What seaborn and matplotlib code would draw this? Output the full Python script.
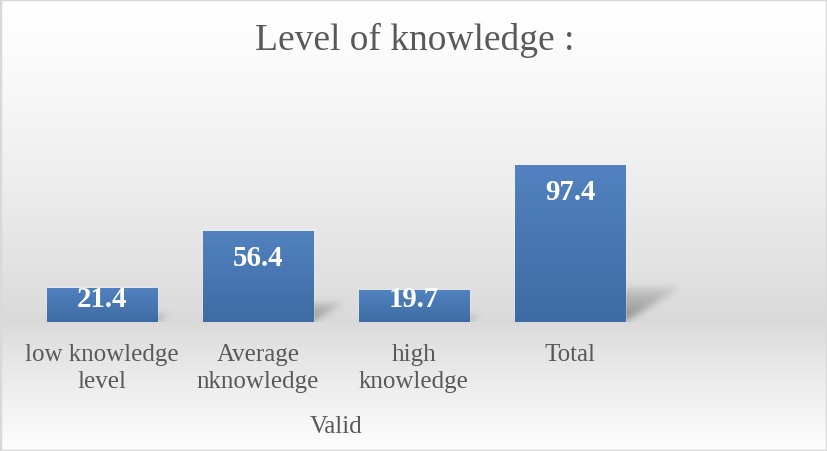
import numpy as np
import pandas as pd
import matplotlib
matplotlib.use("Agg")
import matplotlib.pyplot as plt
from matplotlib.patches import Rectangle
import seaborn as sns

# chart data
categories = ["low knowledge\nlevel", "Average\nnknowledge", "high\nknowledge", "Total"]
values = [21.4, 56.4, 19.7, 97.4]
group_label = "Valid"
title = "Level of knowledge :"

sns.set_style("white")
plt.rcParams["font.family"] = ["Liberation Serif", "DejaVu Serif"]

W, H = 827, 452
PX_PER_UNIT = 1.612   # vertical pixels per value unit
PX_PER_SLOT = 156     # horizontal pixels per category
fig = plt.figure(figsize=(W / 100, H / 100), dpi=100)

# background: white -> light gray at the bar base -> white at the bottom
bg = fig.add_axes([0, 0, 1, 1], zorder=-10)
ys = np.linspace(0, 1, 400)  # 0 = top
base = 323 / H
shade = np.where(ys < base,
                 1.0 - 0.145 * (ys / base) ** 1.3,
                 0.855 + 0.14 * ((ys - base) / (1 - base)) ** 0.9)
grad = np.repeat(shade[:, None], 2, axis=1)
bg.imshow(np.dstack([grad, grad, grad]), aspect="auto", extent=[0, 1, 0, 1])
bg.set_xlim(0, 1)
bg.set_ylim(0, 1)
bg.axis("off")
bg.add_patch(Rectangle((0, 0), 1, 1, transform=bg.transAxes, fill=False,
                       edgecolor="#d9d9d9", linewidth=2.5))

df = pd.DataFrame({"category": categories, "value": values})

ax = fig.add_axes([24 / W, 129 / H, 780 / W, 193.4 / H])
ax.patch.set_alpha(0)
sns.barplot(data=df, x="category", y="value", color="#4a7ab5", width=0.706,
            saturation=1, ax=ax, zorder=3)


def blur(a, sigma):
    r = int(3 * sigma)
    k = np.exp(-0.5 * (np.arange(-r, r + 1) / sigma) ** 2)
    k /= k.sum()
    a = np.apply_along_axis(lambda m: np.convolve(m, k, mode="same"), 0, a)
    a = np.apply_along_axis(lambda m: np.convolve(m, k, mode="same"), 1, a)
    return a


def add_shadow(ax, x0, x1, h):
    # soft perspective shadow falling back to the right of the bar
    dx = 0.0037 * h
    dy = 0.22 * h
    xmin, xmax = x0 - 0.1, x1 + dx + 0.15
    ymin, ymax = -4, dy + 8
    nx = int((xmax - xmin) * PX_PER_SLOT)
    ny = int((ymax - ymin) * PX_PER_UNIT)
    gx, gy = np.meshgrid(np.linspace(xmin, xmax, nx),
                         np.linspace(ymax, ymin, ny))
    t = np.clip(gy / dy, 0, 1)
    inside = (gy >= 0) & (gy <= dy) & (gx >= x0 + t * dx) & (gx <= x1 + t * dx)
    mask = inside * (1 - 0.75 * t)
    soft = blur(mask.astype(float), 3.5)
    rgba = np.zeros((ny, nx, 4))
    rgba[..., :3] = 0.28
    rgba[..., 3] = np.clip(soft * 0.55, 0, 1)
    ax.imshow(rgba, extent=[xmin, xmax, ymin, ymax], aspect="auto", zorder=2,
              interpolation="bilinear")


for bar, v in zip(ax.patches, values):
    x0 = bar.get_x()
    x1 = x0 + bar.get_width()
    h = bar.get_height()
    add_shadow(ax, x0, x1, h)
    # vertical gradient fill clipped to the bar
    g = np.linspace(0, 1, 100)[:, None]
    top = np.array([0.32, 0.51, 0.75])
    bot = np.array([0.24, 0.42, 0.64])
    img = top * (1 - g[..., None]) + bot * g[..., None]
    img = np.repeat(img, 2, axis=1)
    im = ax.imshow(img, extent=[x0, x1, 0, h], aspect="auto", zorder=4,
                   origin="upper")
    im.set_clip_path(bar)
    # label inside the top end, pushed up when the bar is short
    off_px = min(26, h * PX_PER_UNIT - 23.5)
    ax.text(bar.get_x() + bar.get_width() / 2, h - off_px / PX_PER_UNIT,
            f"{v:.1f}", ha="center", va="center", color="white",
            fontsize=20.8, fontweight="bold", zorder=5)

ax.set_xlim(-0.5, 4.5)
ax.set_ylim(0, 120)
ax.set_xticks(range(5))
ax.set_xticklabels(categories + [""], fontsize=18, color="#595959",
                   linespacing=1.3)
ax.tick_params(axis="x", length=0, pad=15)
ax.set_yticks([])
ax.set_xlabel("")
ax.set_ylabel("")
sns.despine(ax=ax, left=True, bottom=True)

# outer category label under the first four categories
ax.text(1.5, -64.5, group_label, ha="center", va="center", fontsize=18,
        color="#595959")

fig.text(415 / W, 1 - 40 / H, title, ha="center", va="center",
         fontsize=27, color="#595959")

fig.savefig("out.png", dpi=100)
